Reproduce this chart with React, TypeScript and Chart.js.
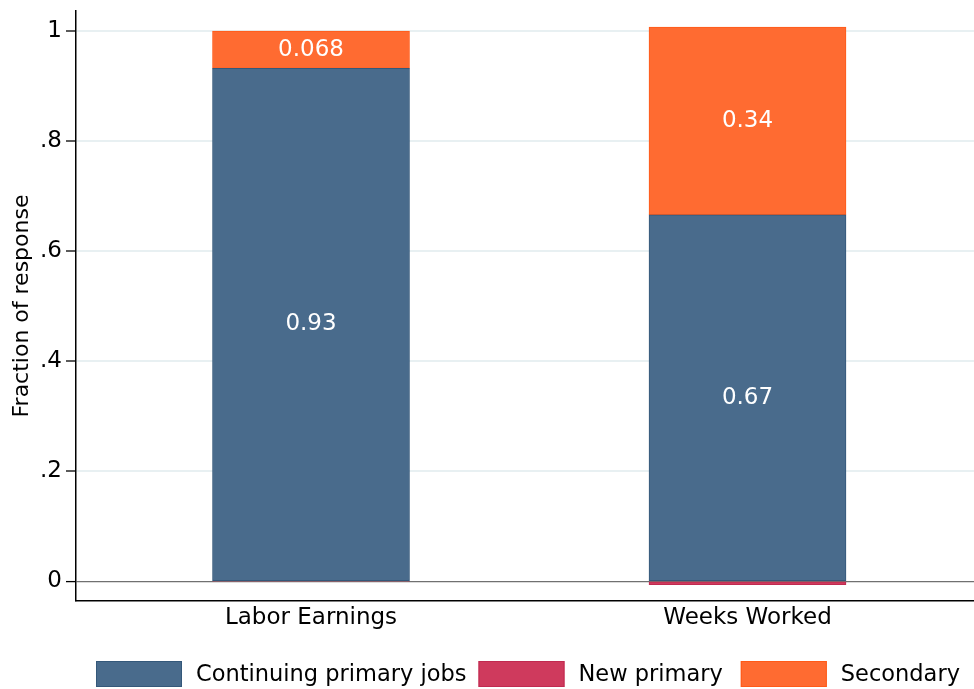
import React, { useEffect, useRef } from "react";
import { Chart, registerables } from "chart.js";

Chart.register(...registerables);

const categories = ["Labor Earnings", "Weeks Worked"];
const seriesNames = ["Continuing primary jobs", "New primary", "Secondary"];
const continuing = [0.932, 0.666];
const newPrimary = [-0.001, -0.0065];
const secondary = [0.068, 0.341];
const yTicks = [0, 0.2, 0.4, 0.6, 0.8, 1];
const yTickLabels = ["0", ".2", ".4", ".6", ".8", "1"];

const FONT = "'DejaVu Sans', sans-serif";
const fills = ["#496b8c", "#cf3a5d", "#ff6b31"];
const borders = ["#34587a", "#c02a50", "#ff5a18"];

const barLabelPlugin = {
  id: "barLabels",
  afterDatasetsDraw(chart: any) {
    const ctx = chart.ctx;
    ctx.save();
    ctx.fillStyle = "#ffffff";
    ctx.font = `23px ${FONT}`;
    ctx.textAlign = "center";
    ctx.textBaseline = "middle";
    chart.data.datasets.forEach((ds: any, di: number) => {
      const meta = chart.getDatasetMeta(di);
      meta.data.forEach((bar: any, i: number) => {
        const v = ds.data[i].y;
        if (Math.abs(v) < 0.02) return;
        const txt = String(Number(v.toPrecision(2)));
        ctx.fillText(txt, bar.x, (bar.y + bar.base) / 2);
      });
    });
    ctx.restore();
  },
};

const legendPlugin = {
  id: "customLegend",
  afterDraw(chart: any) {
    const ctx = chart.ctx;
    const area = chart.chartArea;
    ctx.save();
    ctx.font = `22.5px ${FONT}`;
    const boxW = 86;
    const boxH = 26;
    const gapText = 14;
    const gapItems = [12, 18];
    let x = area.left + 20;
    const top = 661;
    chart.data.datasets.forEach((ds: any, i: number) => {
      ctx.fillStyle = ds.backgroundColor;
      ctx.fillRect(x, top, boxW, boxH);
      ctx.strokeStyle = ds.borderColor;
      ctx.lineWidth = 1;
      ctx.strokeRect(x + 0.5, top + 0.5, boxW - 1, boxH - 1);
      ctx.fillStyle = "#000000";
      ctx.textAlign = "left";
      ctx.textBaseline = "middle";
      const tx = x + boxW + gapText;
      ctx.fillText(ds.label, tx, top + boxH / 2 + 1);
      x = tx + ctx.measureText(ds.label).width + (gapItems[i] ?? 0);
    });
    ctx.restore();
  },
};

export default function App() {
  const canvasRef = useRef<HTMLCanvasElement | null>(null);

  useEffect(() => {
    if (!canvasRef.current) return;
    const values = [continuing, newPrimary, secondary];
    const chart = new Chart(canvasRef.current, {
      type: "bar",
      data: {
        datasets: values.map((arr, si) => ({
          label: seriesNames[si],
          data: categories.map((_, i) => ({ x: i + 1, y: arr[i] })),
          backgroundColor: fills[si],
          borderColor: borders[si],
          borderWidth: 1,
          borderSkipped: false,
          barThickness: 197,
        })),
      },
      options: {
        animation: false,
        responsive: true,
        maintainAspectRatio: false,
        layout: { padding: { top: 11, right: 0, bottom: 0, left: 0 } },
        plugins: {
          legend: { display: false },
          tooltip: { enabled: false },
          title: { display: false },
        },
        scales: {
          x: {
            type: "linear",
            stacked: true,
            offset: false,
            bounds: "ticks",
            min: 0.4616,
            max: 2.5189,
            afterBuildTicks: (scale: any) => {
              scale.ticks = categories.map((_, i) => ({ value: i + 1 }));
            },
            afterFit: (scale: any) => {
              scale.height = 88;
              scale.paddingLeft = 0;
              scale.paddingRight = 0;
            },
            grid: { display: false, drawTicks: false, offset: false },
            border: { display: true, color: "#000000", width: 1.5 },
            ticks: {
              padding: 3,
              color: "#000000",
              font: { family: FONT, size: 23 },
              maxRotation: 0,
              autoSkip: false,
              callback: (v: any) => categories[Math.round(Number(v)) - 1] ?? "",
            },
          },
          y: {
            type: "linear",
            stacked: true,
            min: -0.036,
            max: 1.0363,
            afterBuildTicks: (scale: any) => {
              scale.ticks = yTicks.map((v) => ({ value: v }));
            },
            afterFit: (scale: any) => {
              scale.width = 76;
              scale.paddingTop = 0;
              scale.paddingBottom = 0;
            },
            grid: {
              display: true,
              drawTicks: true,
              tickLength: 10,
              color: (c: any) => (c.tick && c.tick.value === 0 ? "#707070" : "#e8f0f2"),
              lineWidth: (c: any) => (c.tick && c.tick.value === 0 ? 1.2 : 2),
              tickColor: "#000000",
              tickWidth: 1.3,
            },
            border: { display: true, color: "#000000", width: 1.5 },
            ticks: {
              padding: 4,
              color: "#000000",
              font: { family: FONT, size: 23 },
              autoSkip: false,
              callback: (v: any) => {
                const idx = yTicks.findIndex((t) => Math.abs(t - Number(v)) < 1e-9);
                return idx >= 0 ? yTickLabels[idx] : "";
              },
            },
            title: {
              display: true,
              text: "Fraction of response",
              color: "#000000",
              font: { family: FONT, size: 22 },
              padding: { top: 9, bottom: 0 },
            },
          },
        },
      } as any,
      plugins: [barLabelPlugin, legendPlugin],
    });
    return () => chart.destroy();
  }, []);

  return (
    <div style={{ position: "fixed", left: 0, top: 0, width: 974, height: 689, background: "#ffffff" }}>
      <canvas ref={canvasRef} />
    </div>
  );
}
